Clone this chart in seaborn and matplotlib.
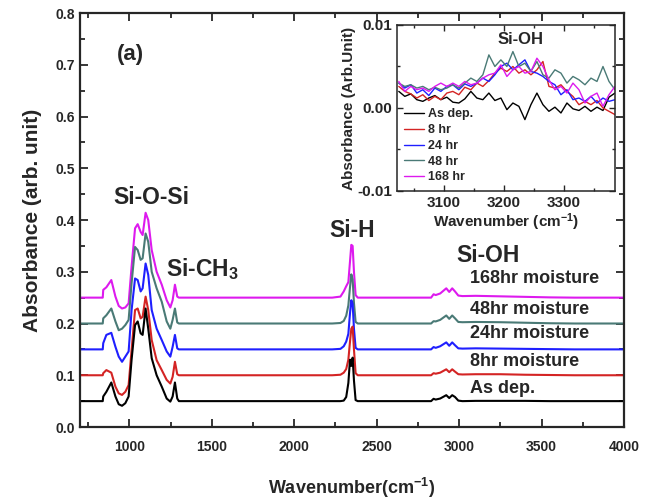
import numpy as np
import pandas as pd
import matplotlib
matplotlib.use("Agg")
import matplotlib.pyplot as plt
from matplotlib.ticker import MultipleLocator
import seaborn as sns

# ---- main FTIR spectra (each sample offset by 0.05) ----
wavenumber = [700, 838, 841, 860, 890, 915, 935, 955, 975, 995, 1013, 1034, 1050, 1068, 1080,
              1098, 1114, 1135, 1165, 1196, 1226, 1248, 1262, 1276, 1290, 1300,
              2230, 2280, 2300, 2315, 2328, 2338, 2346, 2354, 2362, 2372, 2385, 2400,
              2830, 2845, 2858, 2885, 2922, 2940, 2958, 2975, 2995, 3020, 3100, 3250, 3400,
              3550, 3700, 4000]

as_dep = [0.05, 0.05, 0.059, 0.068, 0.086, 0.059, 0.044, 0.041, 0.046, 0.059, 0.13, 0.197, 0.204, 0.181, 0.178,
          0.229, 0.19, 0.133, 0.10, 0.078, 0.055, 0.049, 0.059, 0.086, 0.055, 0.05,
          0.05, 0.05, 0.051, 0.058, 0.085, 0.13, 0.118, 0.134, 0.09, 0.052, 0.05, 0.05,
          0.05, 0.0545, 0.053, 0.055, 0.0615, 0.056, 0.0615, 0.058, 0.051, 0.05, 0.0505, 0.0505, 0.0505,
          0.05, 0.05, 0.05]
hr8 = [0.1, 0.1, 0.104, 0.110, 0.105, 0.078, 0.065, 0.062, 0.068, 0.081, 0.149, 0.226, 0.229, 0.21, 0.213,
       0.252, 0.226, 0.168, 0.129, 0.11, 0.091, 0.084, 0.097, 0.126, 0.102, 0.1,
       0.1, 0.101, 0.105, 0.112, 0.13, 0.165, 0.19, 0.194, 0.15, 0.104, 0.1, 0.1,
       0.1, 0.104, 0.103, 0.105, 0.1115, 0.106, 0.1115, 0.107, 0.102, 0.1015, 0.102, 0.102, 0.101,
       0.1005, 0.1, 0.1]
hr24 = [0.15, 0.15, 0.162, 0.178, 0.182, 0.155, 0.136, 0.126, 0.136, 0.146, 0.226, 0.287, 0.284, 0.262, 0.268,
        0.316, 0.294, 0.226, 0.19, 0.168, 0.146, 0.136, 0.155, 0.178, 0.152, 0.15,
        0.15, 0.151, 0.156, 0.165, 0.18, 0.22, 0.245, 0.238, 0.19, 0.153, 0.15, 0.15,
        0.15, 0.1545, 0.153, 0.156, 0.1635, 0.157, 0.1635, 0.158, 0.152, 0.1515, 0.152, 0.1515, 0.151,
        0.1505, 0.15, 0.15]
hr48 = [0.2, 0.2, 0.21, 0.216, 0.229, 0.204, 0.187, 0.19, 0.197, 0.207, 0.278, 0.348, 0.342, 0.323, 0.326,
        0.374, 0.358, 0.30, 0.268, 0.242, 0.204, 0.19, 0.207, 0.229, 0.202, 0.2,
        0.2, 0.201, 0.205, 0.215, 0.235, 0.27, 0.295, 0.285, 0.24, 0.203, 0.2, 0.2,
        0.2, 0.2045, 0.204, 0.207, 0.2155, 0.209, 0.2155, 0.21, 0.203, 0.2025, 0.203, 0.2025, 0.2015,
        0.2005, 0.2, 0.2]
hr168 = [0.25, 0.25, 0.265, 0.27, 0.284, 0.252, 0.234, 0.229, 0.231, 0.239, 0.31, 0.384, 0.392, 0.377, 0.371,
         0.414, 0.40, 0.342, 0.30, 0.275, 0.245, 0.231, 0.245, 0.275, 0.252, 0.25,
         0.25, 0.252, 0.262, 0.272, 0.28, 0.32, 0.352, 0.35, 0.30, 0.255, 0.25, 0.25,
         0.25, 0.2565, 0.255, 0.258, 0.268, 0.261, 0.268, 0.262, 0.254, 0.253, 0.2535, 0.2525, 0.2515,
         0.2505, 0.25, 0.25]

# ---- inset: Si-OH region (values in 1e-3 absorbance units) ----
inset_wn = [3025, 3035, 3045, 3055, 3065, 3075, 3085, 3095, 3105, 3115, 3125, 3135, 3145, 3155, 3165,
            3175, 3185, 3195, 3205, 3215, 3225, 3235, 3245, 3255, 3265, 3275, 3285, 3295, 3305, 3315,
            3325, 3335, 3345, 3355, 3365, 3375, 3385]
inset_as_dep = [2.0, 1.4, 1.7, 1.0, 0.8, 1.2, 1.5, 1.0, 1.3, 0.7, 0.6, 1.1, 2.0, 1.2, 1.0,
                1.8, 0.9, 1.2, -0.2, 0.6, 0.2, -1.4, 0.4, 1.8, 0.4, -0.4, 0.1, -0.6, 0.6, -0.1,
                -0.3, 0.2, -0.4, 0.1, -0.3, 1.3, 1.8]
inset_8 = [2.6, 2.0, 1.7, 1.2, 1.6, 0.9, 1.4, 1.0, 1.8, 2.0, 1.6, 2.5, 2.2, 3.0, 2.6,
           3.3, 4.2, 4.8, 4.4, 5.0, 4.2, 4.6, 4.0, 4.6, 5.6, 2.6, 2.4, 2.8, 2.0, 1.4,
           0.4, 0.8, 0.4, 0.9, 0.0, -0.4, -0.8]
inset_24 = [3.0, 2.4, 2.8, 1.8, 2.2, 1.5, 2.4, 2.0, 2.6, 2.8, 2.2, 2.9, 2.6, 3.0, 3.6,
            3.2, 4.0, 5.0, 5.4, 4.6, 5.2, 5.8, 4.4, 4.2, 3.8, 3.2, 2.8, 1.6, 2.2, 1.0,
            1.2, 0.8, 1.4, 0.6, 1.2, 0.8, 1.0]
inset_48 = [3.0, 2.6, 2.8, 2.4, 2.6, 2.2, 2.5, 2.2, 2.4, 2.8, 2.4, 3.0, 3.6, 3.2, 4.0,
            6.4, 5.0, 5.8, 5.0, 6.8, 5.0, 5.4, 4.4, 5.6, 4.0, 3.6, 4.6, 4.2, 3.0, 3.8,
            3.4, 2.8, 3.6, 3.2, 5.0, 3.2, 2.2]
inset_168 = [3.2, 2.0, 2.6, 2.2, 2.4, 2.0, 2.6, 3.0, 2.6, 3.0, 2.6, 3.2, 2.8, 3.0, 3.6,
             4.0, 4.2, 5.2, 3.8, 4.6, 5.0, 4.2, 4.4, 6.0, 5.0, 3.4, 2.2, 2.6, 1.8, 3.0,
             2.2, 0.6, 1.4, 1.8, 0.2, 1.6, 2.6]

series_labels = ["As dep.", "8 hr", "24 hr", "48 hr", "168 hr"]
main_labels = ["As dep.", "8hr moisture", "24hr moisture", "48hr moisture", "168hr moisture"]
colors = ["#000000", "#d42424", "#1f1fff", "#4a7a76", "#dd1aee"]

sns.set_style("ticks")
plt.rcParams["font.family"] = ["Liberation Sans", "DejaVu Sans"]
plt.rcParams["font.weight"] = "bold"
plt.rcParams["axes.labelweight"] = "bold"
plt.rcParams["mathtext.fontset"] = "custom"
plt.rcParams["mathtext.rm"] = "Liberation Sans:bold"
plt.rcParams["mathtext.bf"] = "Liberation Sans:bold"
plt.rcParams["mathtext.default"] = "bf"

fig = plt.figure(figsize=(6.6, 5.01), dpi=100)
ax = fig.add_axes([0.1212, 0.1477, 0.8242, 0.8263])

main_series = [as_dep, hr8, hr24, hr48, hr168]
for y, c in zip(main_series[::-1], colors[::-1]):
    sns.lineplot(x=wavenumber, y=y, color=c, lw=1.5, ax=ax, sort=False, estimator=None)

ax.set_xlim(700, 4000)
ax.set_ylim(0, 0.8)
ax.xaxis.set_major_locator(MultipleLocator(500))
ax.xaxis.set_minor_locator(MultipleLocator(250))
ax.yaxis.set_major_locator(MultipleLocator(0.1))
ax.yaxis.set_minor_locator(MultipleLocator(0.05))
ax.set_xticks([1000, 1500, 2000, 2500, 3000, 3500, 4000])
ax.yaxis.set_major_formatter(matplotlib.ticker.FormatStrFormatter("%.1f"))
ax.tick_params(which="both", direction="in", top=True, right=True, width=1.3, labelsize=10)
ax.tick_params(which="major", length=6)
ax.tick_params(which="minor", length=3.5)
ax.tick_params(axis="x", pad=9)
for s in ax.spines.values():
    s.set_linewidth(1.6)
ax.set_xlabel("Wavenumber(cm$^{-1}$)", fontsize=13, labelpad=16)
ax.set_ylabel("Absorbance (arb. unit)", fontsize=15, labelpad=10)

ax.text(1003, 0.719, "(a)", fontsize=16, ha="center", va="center")
ax.text(1131, 0.444, "Si-O-Si", fontsize=16.5, ha="center", va="center")
ax.text(1222, 0.305, "Si-CH$_3$", fontsize=16.5, ha="left", va="center")
ax.text(2350, 0.379, "Si-H", fontsize=16.5, ha="center", va="center")
ax.text(3175, 0.332, "Si-OH", fontsize=16.5, ha="center", va="center")
for txt, yy in zip(main_labels[::-1], [0.287, 0.228, 0.18, 0.126, 0.075]):
    ax.text(3068, yy, txt, fontsize=13, ha="left", va="center")

# ---- inset ----
axin = fig.add_axes([0.6015, 0.6188, 0.3303, 0.3313])
inset_series = [inset_as_dep, inset_8, inset_24, inset_48, inset_168]
df = pd.DataFrame({"wn": inset_wn * 5,
                   "abs": np.concatenate(inset_series) / 1000,
                   "sample": np.repeat(series_labels, len(inset_wn))})
sns.lineplot(data=df, x="wn", y="abs", hue="sample", palette=colors, lw=1.0,
             ax=axin, sort=False, estimator=None)
axin.set_xlim(3022, 3385)
axin.set_ylim(-0.01, 0.01)
axin.xaxis.set_major_locator(MultipleLocator(100))
axin.xaxis.set_minor_locator(MultipleLocator(50))
axin.yaxis.set_major_locator(MultipleLocator(0.01))
axin.yaxis.set_minor_locator(MultipleLocator(0.005))
axin.yaxis.set_major_formatter(matplotlib.ticker.FormatStrFormatter("%.2f"))
axin.tick_params(which="both", direction="in", top=True, right=True, width=1.0, labelsize=11)
axin.tick_params(which="major", length=4)
axin.tick_params(which="minor", length=2.5)
for s in axin.spines.values():
    s.set_linewidth(1.1)
axin.set_xlabel("Wavenumber (cm$^{-1}$)", fontsize=11, labelpad=1)
axin.set_ylabel("Absorbance (Arb.Unit)", fontsize=11, labelpad=1)
axin.text(3228, 0.0082, "Si-OH", fontsize=12, ha="center", va="center")
leg = axin.legend(loc="lower left", frameon=False, fontsize=9, handlelength=1.6,
                  handletextpad=0.3, labelspacing=0.3, borderaxespad=0.2)
for t in leg.get_texts():
    t.set_fontweight("bold")

fig.savefig("out.png", dpi=100)
